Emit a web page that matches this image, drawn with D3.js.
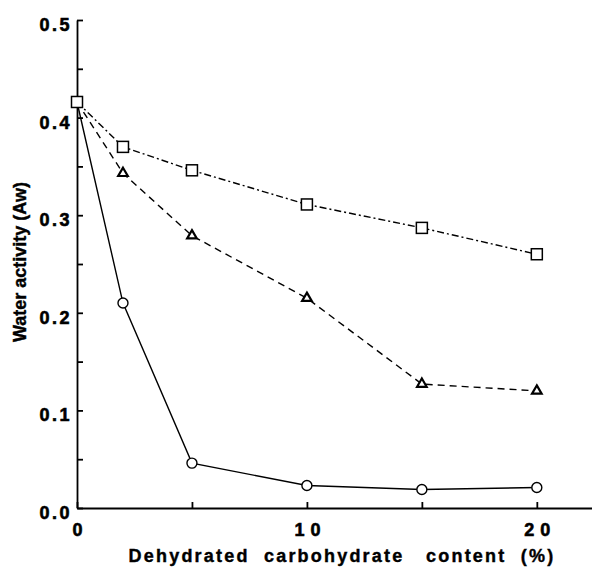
<!DOCTYPE html>
<html>
<head>
<meta charset="utf-8">
<script src="https://cdn.jsdelivr.net/npm/d3@7"></script>
<style>
  body { margin: 0; background: #fff; }
  svg { display: block; }
  .axis text { font-family: "Liberation Sans", Arial, sans-serif; font-weight: bold; font-size: 18px; fill: #000; stroke: #000; stroke-width: 0.6px; }
  .axis path, .axis line { stroke: #000; stroke-width: 1.8; }
  .title { font-family: "Liberation Sans", Arial, sans-serif; font-weight: bold; font-size: 18px; fill: #000; stroke: #000; stroke-width: 0.4px; }
</style>
</head>
<body>
<div id="chartBox"></div>
<script>
(function () {
  'use strict';

  var outerWidth = 592,
      outerHeight = 568;

  // carbohydrate content (%)
  var content = [0, 2, 5, 10, 15, 20];
  // water activity, three series
  var squareAw = [0.416, 0.370, 0.346, 0.311, 0.287, 0.260];
  var triangleAw = [0.416, 0.343, 0.279, 0.215, 0.127, 0.120];
  var circleAw = [0.416, 0.210, 0.046, 0.023, 0.019, 0.021];

  var yTicks = [0, 0.05, 0.1, 0.15, 0.2, 0.25, 0.3, 0.35, 0.4, 0.45, 0.5];
  var yLabels = ["0.0", "", "0.1", "", "0.2", "", "0.3", "", "0.4", "", "0.5"];
  var xTicks = [0, 5, 10, 15, 20];
  var xLabels = ["0", "", "10", "", "20"];

  var x = d3.scaleLinear().domain([0, 22.4]).range([77, 592]);
  var y = d3.scaleLinear().domain([0, 0.5]).range([508, 20]);

  var svg = d3.select("#chartBox").append("svg")
    .attr("width", outerWidth)
    .attr("height", outerHeight);

  // y axis, ticks pointing inward
  var yAxis = d3.axisLeft(y)
    .tickValues(yTicks)
    .tickSizeInner(-6)
    .tickSizeOuter(0)
    .tickPadding(5)
    .tickFormat(function (d, i) { return yLabels[i]; });

  svg.append("g")
    .attr("class", "y axis")
    .attr("transform", "translate(" + x(0) + ",0)")
    .call(yAxis)
    .selectAll("text")
    .attr("dy", "0.58em")
    .style("letter-spacing", "2.5px");

  // x axis
  var xAxis = d3.axisBottom(x)
    .tickValues(xTicks)
    .tickSizeInner(-6)
    .tickSizeOuter(0)
    .tickPadding(15)
    .tickFormat(function (d, i) { return xLabels[i]; });

  svg.append("g")
    .attr("class", "x axis")
    .attr("transform", "translate(0," + y(0) + ")")
    .call(xAxis)
    .selectAll("text")
    .style("letter-spacing", "6px")
    .attr("dx", "3px");

  // titles
  svg.append("text")
    .attr("class", "title")
    .attr("x", 342)
    .attr("y", 562)
    .attr("text-anchor", "middle")
    .style("letter-spacing", "2.2px")
    .style("white-space", "pre")
    .text("Dehydrated  carbohydrate   content  (%)");

  svg.append("text")
    .attr("class", "title")
    .attr("transform", "translate(26,262) rotate(-90)")
    .attr("text-anchor", "middle")
    .text("Water activity (Aw)");

  var line = d3.line()
    .x(function (d) { return x(d[0]); })
    .y(function (d) { return y(d[1]); });

  function pairs(vals) {
    return content.map(function (c, i) { return [c, vals[i]]; });
  }

  var series = [
    { name: "circle", vals: circleAw, dash: null },
    { name: "triangle", vals: triangleAw, dash: "7,5" },
    { name: "square", vals: squareAw, dash: "7,3,2,3" }
  ];

  series.forEach(function (s) {
    svg.append("path")
      .datum(pairs(s.vals))
      .attr("d", line)
      .style("fill", "none")
      .style("stroke", "#000")
      .style("stroke-width", 1.4)
      .style("stroke-dasharray", s.dash);
  });

  // markers
  svg.selectAll(".circ")
    .data(pairs(circleAw).slice(1))
    .enter().append("circle")
    .attr("class", "circ")
    .attr("cx", function (d) { return x(d[0]); })
    .attr("cy", function (d) { return y(d[1]); })
    .attr("r", 5)
    .style("fill", "#fff")
    .style("stroke", "#000")
    .style("stroke-width", 1.4);

  var triSym = d3.symbol().type(d3.symbolTriangle).size(40);
  svg.selectAll(".tri")
    .data(pairs(triangleAw).slice(1))
    .enter().append("path")
    .attr("class", "tri")
    .attr("transform", function (d) { return "translate(" + x(d[0]) + "," + y(d[1]) + ")"; })
    .attr("d", triSym)
    .style("fill", "#fff")
    .style("stroke", "#000")
    .style("stroke-width", 2.2);

  svg.selectAll(".sq")
    .data(pairs(squareAw))
    .enter().append("rect")
    .attr("class", "sq")
    .attr("x", function (d) { return x(d[0]) - 5.5; })
    .attr("y", function (d) { return y(d[1]) - 5.5; })
    .attr("width", 11)
    .attr("height", 11)
    .style("fill", "#fff")
    .style("stroke", "#000")
    .style("stroke-width", 1.5);
})();
</script>
</body>
</html>
